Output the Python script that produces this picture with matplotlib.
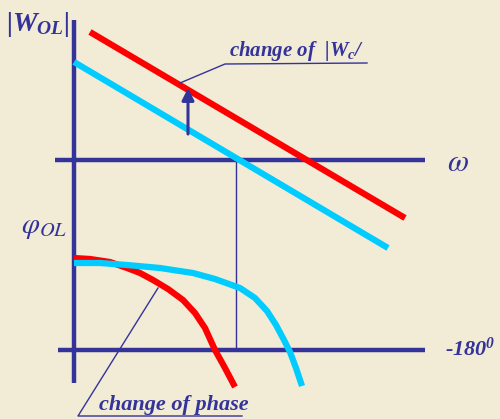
import matplotlib.pyplot as plt

# pixel-space sketch of open-loop magnitude / phase curves
W, H = 500, 419

# magnitude lines (x, y in image pixels)
mag_red_x = [90, 405]
mag_red_y = [32, 218]
mag_cyan_x = [74, 388]
mag_cyan_y = [62, 248]

# phase curves
phase_red_x = [74, 90, 110, 127, 140, 153, 168, 183, 195, 205, 215, 225, 235]
phase_red_y = [258, 259, 262, 268, 273, 280, 289, 300, 313, 328, 350, 368, 387]
phase_cyan_x = [74, 100, 127, 160, 193, 215, 240, 255, 267, 276, 284, 290, 296, 302]
phase_cyan_y = [263, 263, 265, 268, 273, 279, 288, 298, 311, 325, 340, 352, 368, 386]

BLUE = '#333399'
RED = '#ff0000'
CYAN = '#00ccff'
BG = '#f2ebd6'

plt.rcParams['mathtext.fontset'] = 'custom'
plt.rcParams['mathtext.rm'] = 'Liberation Serif:bold:italic'
plt.rcParams['mathtext.it'] = 'Liberation Serif:bold:italic'
plt.rcParams['mathtext.bf'] = 'Liberation Serif:bold:italic'

fig = plt.figure(figsize=(5, 4.19), dpi=100)
fig.patch.set_facecolor(BG)
ax = fig.add_axes([0, 0, 1, 1])
ax.set_xlim(0, W)
ax.set_ylim(H, 0)
ax.axis('off')

# axes
ax.plot([74, 74], [20, 383], color=BLUE, lw=3.2, solid_capstyle='butt')
ax.plot([55, 425], [160, 160], color=BLUE, lw=3.2, solid_capstyle='butt')
ax.plot([58, 425], [350, 350], color=BLUE, lw=3.2, solid_capstyle='butt')
ax.plot([236, 236], [160, 350], color=BLUE, lw=1)

# curves
ax.plot(mag_red_x, mag_red_y, color=RED, lw=4.5, solid_capstyle='butt')
ax.plot(mag_cyan_x, mag_cyan_y, color=CYAN, lw=4.5, solid_capstyle='butt')
ax.plot(phase_red_x, phase_red_y, color=RED, lw=4.5, solid_capstyle='butt',
        solid_joinstyle='round')
ax.plot(phase_cyan_x, phase_cyan_y, color=CYAN, lw=4.5, solid_capstyle='butt',
        solid_joinstyle='round')

# arrow
ax.annotate('', xy=(188, 88), xytext=(188, 134),
            arrowprops=dict(arrowstyle='-|>', color=BLUE, lw=2.2,
                            mutation_scale=18, shrinkA=0, shrinkB=0))

# leader lines
ax.plot([180, 225, 367], [83, 64, 63], color=BLUE, lw=1)
ax.plot([158, 78, 242], [288, 416, 416], color=BLUE, lw=1)

bi = dict(family='Liberation Serif', weight='bold', style='italic', color=BLUE)

ax.text(229, 56, r'change of  |$W_c$/', fontsize=15, ha='left', va='baseline', **bi)
ax.text(99, 410, 'change of phase', fontsize=16, ha='left', va='baseline', **bi)
ax.text(447, 171, r'$\omega$', fontsize=22, ha='left', va='baseline', color=BLUE,
        math_fontfamily='stix')
ax.text(445, 356, r'-180$^{0}$', fontsize=16, ha='left', va='baseline', **bi)

ax.text(6, 31, r'|$W_{OL}$|', fontsize=20, ha='left', va='baseline', **bi)
ax.text(21, 233, r'$\varphi_{OL}$', fontsize=21, ha='left', va='baseline', color=BLUE,
        math_fontfamily='stix')

fig.savefig('out.png', dpi=100, facecolor=BG)
